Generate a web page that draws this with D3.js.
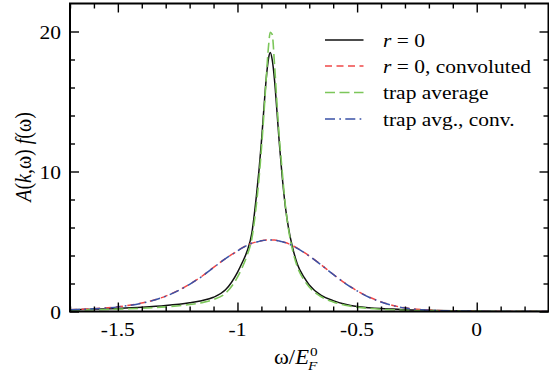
<!DOCTYPE html>
<html>
<head>
<meta charset="utf-8">
<script src="https://cdn.jsdelivr.net/npm/d3@7"></script>
<style>
  body { margin: 0; background: #fff; }
</style>
</head>
<body>
<svg id="chart" width="549" height="375"></svg>
<script>
// frequency grid, omega / E_F^0
const omega = [-1.70, -1.60, -1.50, -1.40, -1.30, -1.20, -1.15, -1.10, -1.05, -1.00,
  -0.98, -0.96, -0.94, -0.92, -0.91, -0.90, -0.89, -0.88, -0.87, -0.863,
  -0.855, -0.845, -0.835, -0.825, -0.815, -0.80, -0.785, -0.77, -0.75, -0.72,
  -0.70, -0.65, -0.60, -0.55, -0.50, -0.45, -0.40, -0.35, -0.30, -0.20,
  -0.10, 0.00, 0.10, 0.20, 0.30];

// A(k,w) f(w) for each curve
const specR0 = [0.13, 0.16, 0.22, 0.30, 0.42, 0.62, 0.77, 1.02, 1.55, 2.8,
  3.5, 4.3, 5.6, 8.4, 10.1, 12.1, 14.4, 16.6, 18.1, 18.5,
  18.0, 16.5, 14.3, 12.0, 10.0, 7.5, 5.8, 4.6, 3.4, 2.4,
  1.9, 1.15, 0.78, 0.52, 0.36, 0.27, 0.21, 0.17, 0.13, 0.09,
  0.05, 0.02, 0.005, 0, 0];
const specR0Conv = [0.13, 0.20, 0.34, 0.60, 1.10, 1.95, 2.50, 3.15, 3.78, 4.33,
  4.55, 4.73, 4.88, 4.97, 5.02, 5.06, 5.09, 5.11, 5.12, 5.12,
  5.11, 5.10, 5.08, 5.04, 5.00, 4.93, 4.83, 4.71, 4.52, 4.20,
  3.97, 3.33, 2.66, 2.02, 1.48, 1.03, 0.69, 0.43, 0.26, 0.10,
  0.04, 0.01, 0, 0, 0];
const specTrap = [0.09, 0.12, 0.17, 0.23, 0.33, 0.50, 0.63, 0.85, 1.3, 2.45,
  3.15, 4.0, 5.2, 7.8, 9.5, 11.6, 14.0, 16.6, 19.0, 19.95,
  19.8, 17.6, 14.9, 12.4, 10.4, 7.6, 5.7, 4.4, 3.2, 2.2,
  1.75, 1.05, 0.68, 0.45, 0.31, 0.22, 0.16, 0.12, 0.09, 0.06,
  0.03, 0.01, 0, 0, 0];
const specTrapConv = [0.12, 0.19, 0.33, 0.59, 1.09, 1.94, 2.49, 3.14, 3.77, 4.32,
  4.54, 4.72, 4.87, 4.96, 5.01, 5.05, 5.08, 5.10, 5.11, 5.11,
  5.10, 5.09, 5.07, 5.03, 4.99, 4.92, 4.82, 4.70, 4.51, 4.19,
  3.96, 3.32, 2.65, 2.01, 1.47, 1.02, 0.68, 0.42, 0.25, 0.09,
  0.04, 0.01, 0, 0, 0];

const xMajor = [-1.5, -1, -0.5, 0];
const xMajorLabels = ["-1.5", "-1", "-0.5", "0"];
const xMinor = [-1.7, -1.6, -1.4, -1.3, -1.2, -1.1, -0.9, -0.8, -0.7, -0.6,
  -0.4, -0.3, -0.2, -0.1, 0.1, 0.2, 0.3];
const yMajor = [0, 10, 20];
const yMajorLabels = ["0", "10", "20"];
const yMinor = [2, 4, 6, 8, 12, 14, 16, 18];

const legendLabels = [
  [["r", true], [" = 0", false]],
  [["r", true], [" = 0, convoluted", false]],
  [["trap average", false]],
  [["trap avg., conv.", false]]
];

const series = [
  { values: specR0, color: "#111", dash: null, width: 1.5 },
  { values: specR0Conv, color: "#f04848", dash: "7,4.5", width: 1.5 },
  { values: specTrap, color: "#7cc65a", dash: "10,4.5", width: 1.6 },
  { values: specTrapConv, color: "#3a52a6", dash: "10,4.3,1.7,4.3", width: 1.5 }
];

const stretch = 1.13; // glyphs in the figure are a bit wide
const serif = "Liberation Serif";
const plotL = 70, plotR = 548.5, plotT = 3.5, plotB = 311.5;

const svg = d3.select("#chart");

const x = d3.scaleLinear().domain([-1.7, 0.3]).range([plotL, plotR]);
const y = d3.scaleLinear().domain([0, 22]).range([plotB, plotT]);

svg.append("defs").append("clipPath").attr("id", "plot")
  .append("rect")
  .attr("x", plotL).attr("y", plotT)
  .attr("width", plotR - plotL).attr("height", plotB - plotT);

// curves
const line = d3.line()
  .x((d, i) => x(omega[i]))
  .y(d => y(d))
  .curve(d3.curveMonotoneX);

svg.append("g").attr("clip-path", "url(#plot)")
  .selectAll("path")
  .data(series)
  .enter()
  .append("path")
  .attr("d", d => line(d.values))
  .attr("fill", "none")
  .attr("stroke", d => d.color)
  .attr("stroke-width", d => d.width)
  .attr("stroke-dasharray", d => d.dash);

// inward ticks on all four sides
function ticks(axis, tx, ty, values, size) {
  const g = svg.append("g")
    .attr("transform", "translate(" + tx + "," + ty + ")")
    .call(axis.tickValues(values).tickSize(-size).tickFormat(""));
  g.select(".domain").remove();
  g.selectAll("line").attr("stroke", "#000").attr("stroke-width", 1.4);
}
ticks(d3.axisBottom(x), 0, plotB, xMinor, 5);
ticks(d3.axisBottom(x), 0, plotB, xMajor, 9);
ticks(d3.axisTop(x), 0, plotT, xMinor, 5);
ticks(d3.axisTop(x), 0, plotT, xMajor, 9);
ticks(d3.axisLeft(y), plotL, 0, yMinor, 5);
ticks(d3.axisLeft(y), plotL, 0, yMajor, 9);
ticks(d3.axisRight(y), plotR, 0, yMinor, 5);
ticks(d3.axisRight(y), plotR, 0, yMajor, 9);

svg.append("rect")
  .attr("x", plotL).attr("y", plotT)
  .attr("width", plotR - plotL).attr("height", plotB - plotT)
  .attr("fill", "none")
  .attr("stroke", "#000")
  .attr("stroke-width", 2);

// tick labels
svg.selectAll(".xlab")
  .data(xMajor)
  .enter()
  .append("text")
  .attr("transform", d => "translate(" + x(d) + ",336) scale(" + stretch + ",1)")
  .attr("text-anchor", "middle")
  .attr("font-family", serif)
  .attr("font-size", 19)
  .text((d, i) => xMajorLabels[i]);

svg.selectAll(".ylab")
  .data(yMajor)
  .enter()
  .append("text")
  .attr("transform", d => "translate(61," + (y(d) + 7) + ") scale(" + stretch + ",1)")
  .attr("text-anchor", "end")
  .attr("font-family", serif)
  .attr("font-size", 19)
  .text((d, i) => yMajorLabels[i]);

// y title
const yt = svg.append("text")
  .attr("transform", "translate(31,157) rotate(-90) scale(1," + stretch + ")")
  .attr("text-anchor", "middle")
  .attr("font-family", serif)
  .attr("font-size", 20);
yt.append("tspan").attr("font-style", "italic").text("A");
yt.append("tspan").text("(");
yt.append("tspan").attr("font-style", "italic").text("k");
yt.append("tspan").text(",ω) ");
yt.append("tspan").attr("font-style", "italic").text("f");
yt.append("tspan").text("(ω)");

// x title
const xt = svg.append("text")
  .attr("transform", "translate(274,364) scale(" + stretch + ",1)")
  .attr("font-family", serif)
  .attr("font-size", 20);
xt.append("tspan").text("ω/");
xt.append("tspan").attr("font-style", "italic").text("E");
const xw = xt.node().getComputedTextLength() * stretch;
svg.append("text")
  .attr("transform", "translate(" + (274 + xw + 1) + ",355.5) scale(" + stretch + ",1)")
  .attr("font-family", serif)
  .attr("font-size", 13.5)
  .text("0");
svg.append("text")
  .attr("transform", "translate(" + (274 + xw - 1) + ",369.5) scale(" + stretch + ",1)")
  .attr("font-family", serif)
  .attr("font-size", 13.5)
  .attr("font-style", "italic")
  .text("F");

// legend
const legendY = [40, 66, 92.5, 119];
const leg = svg.selectAll(".leg")
  .data(series)
  .enter()
  .append("g")
  .attr("transform", (d, i) => "translate(0," + legendY[i] + ")");
leg.append("line")
  .attr("x1", 325).attr("x2", 363.5)
  .attr("stroke", d => d.color)
  .attr("stroke-width", d => d.width)
  .attr("stroke-dasharray", d => d.dash);
leg.append("text")
  .attr("transform", "translate(383,6.5) scale(" + stretch + ",1)")
  .attr("font-family", serif)
  .attr("font-size", 19)
  .each(function (d, i) {
    const t = d3.select(this);
    legendLabels[i].forEach(p => {
      t.append("tspan").attr("font-style", p[1] ? "italic" : "normal").text(p[0]);
    });
  });
</script>
</body>
</html>
